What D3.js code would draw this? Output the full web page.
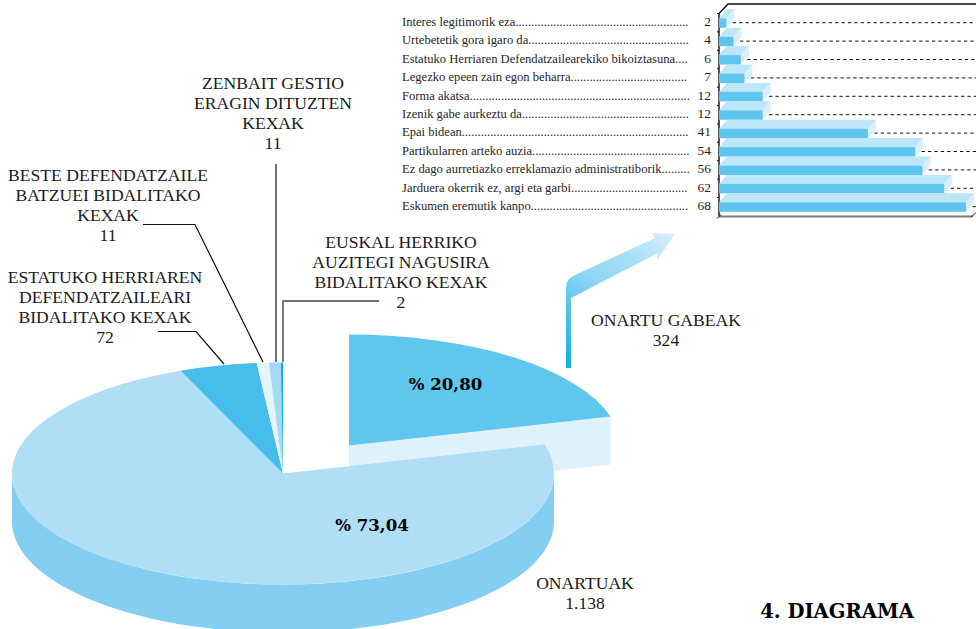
<!DOCTYPE html>
<html><head><meta charset="utf-8">
<script src="https://cdn.jsdelivr.net/npm/d3@7"></script>
<style>
html,body{margin:0;padding:0;background:#fff;overflow:hidden}
svg{display:block}
text{font-family:"Liberation Serif",serif;fill:#1a1a1a}
.big{font-size:17.6px;text-anchor:middle}
.small{font-size:12.6px;fill:#262626}
.num{font-size:13.5px;fill:#262626;text-anchor:end}
.bold{font-family:"DejaVu Serif",serif;font-weight:700;fill:#000;text-anchor:middle}
</style></head><body>
<svg id="c" width="976" height="629"></svg>
<script>
// ---- data ----
const sliceNames  = ["ONARTU GABEAK","ONARTUAK","ESTATUKO HERRIAREN DEFENDATZAILEARI BIDALITAKO KEXAK","BESTE DEFENDATZAILE BATZUEI BIDALITAKO KEXAK","ZENBAIT GESTIO ERAGIN DITUZTEN KEXAK","EUSKAL HERRIKO AUZITEGI NAGUSIRA BIDALITAKO KEXAK"];
const sliceValues = [324,1138,72,11,11,2];
const sliceColors = ["#5fc6ee","#b0def5","#47bdeb","#e6f4fb","#a5daf5","#0fabe6"];

const barCategories = ["Interes legitimorik eza","Urtebetetik gora igaro da","Estatuko Herriaren Defendatzailearekiko bikoiztasuna","Legezko epeen zain egon beharra","Forma akatsa","Izenik gabe aurkeztu da","Epai bidean","Partikularren arteko auzia","Ez dago aurretiazko erreklamazio administratiborik","Jarduera okerrik ez, argi eta garbi","Eskumen eremutik kanpo"];
const barValues = [2,4,6,7,12,12,41,54,56,62,68];

const captions = [
  {lines:["ZENBAIT GESTIO","ERAGIN DITUZTEN","KEXAK","11"],x:273,y:89},
  {lines:["BESTE DEFENDATZAILE","BATZUEI BIDALITAKO","KEXAK","11"],x:108,y:181},
  {lines:["ESTATUKO HERRIAREN","DEFENDATZAILEARI","BIDALITAKO KEXAK","72"],x:105,y:283},
  {lines:["EUSKAL HERRIKO","AUZITEGI NAGUSIRA","BIDALITAKO KEXAK","2"],x:401,y:248},
  {lines:["ONARTU GABEAK","324"],x:666,y:326},
  {lines:["ONARTUAK","1.138"],x:585,y:589}
];
const leaders = [
  [[276,164],[276,362]],
  [[143,224.5],[195,224.5],[263,362]],
  [[158,331.5],[196,331.5],[224,364]],
  [[283,362],[283,301],[379,301]]
];

// ---- setup ----
const svg = d3.select("#c");
const defs = svg.append("defs");
const cx=283, cy=473.5, rx=271, ry=111, depth=48, explodeX=66, explodeY=-28;

// pie on a unit circle, squashed to an ellipse
const pieData = d3.pie().sort(null).value(d=>d)(sliceValues);
const arc = d3.arc().innerRadius(0).outerRadius(1);
const px = a => rx*Math.sin(a), py = a => -ry*Math.cos(a);
const tilt = `scale(${rx},${ry})`;

// exploded slice: front face then top
const ex = svg.append("g").attr("transform",`translate(${cx+explodeX},${cy+explodeY})`);
const s0 = pieData[0];
ex.append("path").attr("fill","#dff1fb")
  .attr("d",d3.line()([[0,0],[px(s0.endAngle),py(s0.endAngle)],[px(s0.endAngle),py(s0.endAngle)+depth],[0,depth]]));

// big pie: rim wall under the visible front half
const main = svg.append("g").attr("transform",`translate(${cx},${cy})`);
const rimAngles = d3.range(0,181,3).map(d=>Math.PI/2+d*Math.PI/180);
const rim = d3.area().x(a=>px(a)).y0(a=>py(a)).y1(a=>py(a)+depth).curve(d3.curveCatmullRom);
main.append("path").attr("fill","#84cff1").attr("d",rim(rimAngles));

ex.append("path").attr("fill",sliceColors[0]).attr("transform",tilt).attr("d",arc(s0));
main.selectAll("path.top").data(pieData.slice(1)).join("path").attr("class","top")
  .attr("transform",tilt).attr("fill",(d,i)=>sliceColors[i+1]).attr("d",arc);

// leaders
const line = d3.line();
svg.selectAll("path.lead").data(leaders).join("path").attr("class","lead")
  .attr("fill","none").attr("stroke",(d,i)=>i==3?"#444":"#111").attr("stroke-width",(d,i)=>i==3?1.4:1.2).attr("d",line);

// arrow
const g = defs.append("linearGradient").attr("id","arr").attr("gradientUnits","userSpaceOnUse")
  .attr("x1",568).attr("y1",368).attr("x2",672).attr("y2",236);
[[0,"#0fb0e6"],[.25,"#4fc0ec"],[.5,"#8ed6f3"],[.75,"#a9dff6"],[1,"#d3eefb"]].forEach(s=>g.append("stop").attr("offset",s[0]).attr("stop-color",s[1]));
svg.append("path").attr("fill","url(#arr)")
  .attr("d","M566,368 L566,287 Q566,279 575,275 L655,238 L652,233 L675,234 L657,260 L658,253 L571,298 L571,368 Z");

// bar chart
const x = d3.scaleLinear().domain([0,68]).range([719,966]);
const y = d3.scaleBand().domain(barCategories).range([13.5,215.9]);
const barTop = 4.8, barH = 9.5, dx = 8, dy = 9;
const bars = barCategories.map((c,i)=>({c,v:barValues[i]}));

svg.selectAll("line.dash").data(bars).join("line").attr("class","dash")
  .attr("x1",d=>x(d.v)).attr("x2",976).attr("y1",d=>y(d.c)+y.bandwidth()/2).attr("y2",d=>y(d.c)+y.bandwidth()/2)
  .attr("stroke","#111").attr("stroke-width",1).attr("stroke-dasharray","3.4 3");

const chrome = svg.append("g").attr("fill","none");
chrome.append("path").attr("stroke","#111").attr("stroke-width",1.4).attr("d",`M976,4H${x(0)+9}L${x(0)},13.5V216`);
chrome.append("path").attr("stroke","#777").attr("stroke-width",2).attr("d",`M${x(0)},216.5H973`);
chrome.append("path").attr("stroke","#111").attr("stroke-width",1).attr("d",`M717,218.5L721,214.5M972,216.5L976,212.5`);
chrome.selectAll("line").data(barCategories).join("line")
  .attr("x1",717).attr("x2",x(0)).attr("y1",d=>y(d)).attr("y2",d=>y(d)).attr("stroke","#111");

const bar = svg.selectAll("g.bar").data(bars).join("g").attr("class","bar")
  .attr("transform",d=>`translate(${x(0)},${y(d.c)+barTop})`);
const w = d => x(d.v)-x(0);
bar.append("path").attr("fill","#bde6f8").attr("d",d=>`M0,0L${dx},${-dy}H${w(d)+dx}L${w(d)},0Z`);
bar.append("path").attr("fill","#d6effb").attr("d",d=>`M${w(d)},0L${w(d)+dx},${-dy}V${barH-dy}L${w(d)},${barH}Z`);
bar.append("rect").attr("fill","#5dc5ee").attr("width",w).attr("height",barH);

// bar labels with dot leaders
const rows = svg.selectAll("g.row").data(bars).join("g").attr("class","row")
  .attr("transform",d=>`translate(0,${y(d.c)+y.bandwidth()/2+3.2})`);
rows.append("text").attr("class","small").attr("x",402).each(function(d){
  const t=d3.select(this); let s=d.c; t.text(s);
  while(this.getComputedTextLength()<285){s+=".";t.text(s);}
});
rows.append("text").attr("class","num").attr("x",711).text(d=>d.v);

// captions
captions.forEach(c=>{
  svg.selectAll(null).data(c.lines).join("text").attr("class","big")
    .attr("x",c.x).attr("y",(d,i)=>c.y+i*20).text(d=>d);
});
svg.append("text").attr("class","bold").attr("font-size",16.6).attr("x",445.5).attr("y",390).text("% 20,80");
svg.append("text").attr("class","bold").attr("font-size",16.6).attr("x",372).attr("y",531).text("% 73,04");
svg.append("text").attr("class","bold").attr("font-size",19.6).attr("x",837).attr("y",618).text("4. DIAGRAMA");
</script></body></html>
